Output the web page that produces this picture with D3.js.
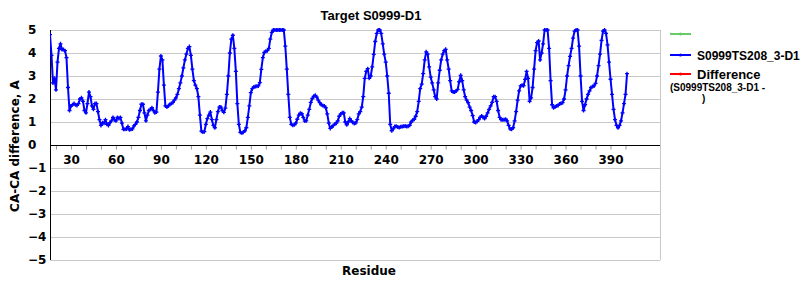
<!DOCTYPE html>
<html>
<head>
<meta charset="utf-8">
<script src="https://cdn.jsdelivr.net/npm/d3@7"></script>
<style>
  body { margin: 0; background: #fff; }
  .tick-label { font-family: "DejaVu Sans", sans-serif; font-weight: bold; font-size: 12px; fill: #000; }
</style>
</head>
<body>
<div id="chart"></div>
<script>
// chart data

var chartTitle = 'Target S0999-D1';
var seriesName = 'S0999TS208_3-D1';
var firstResidue = 16;

// CA-CA difference per residue, starting at firstResidue
var caDiff = [
  4.8, 3.9, 2.7, 2.9, 2.4, 3.6, 4.2, 4.4, 4.15, 4.15,
  4.1, 3.8, 2.5, 1.5, 1.7, 1.75, 1.8, 1.75, 1.72, 1.8,
  2.0, 2.05, 1.9, 1.5, 1.4, 1.8, 2.3, 2.1, 1.7, 1.55,
  1.8, 1.8, 1.45, 1.1, 0.85, 0.97, 0.95, 1.1, 0.9, 0.85,
  0.97, 1.05, 1.2, 1.1, 1.05, 1.2, 1.15, 1.2, 0.95, 0.68,
  0.68, 0.7, 0.8, 0.66, 0.68, 0.7, 0.83, 0.9, 1.0, 1.2,
  1.5, 1.77, 1.77, 1.4, 1.05, 1.3, 1.5, 1.55, 1.62, 1.5,
  1.4, 1.43, 2.3, 3.3, 3.87, 3.7, 2.6, 1.7, 1.65, 1.7,
  1.77, 1.8, 1.85, 1.95, 2.05, 2.2, 2.45, 2.7, 3.0, 3.35,
  3.7, 3.95, 4.2, 4.28, 3.9, 3.3, 2.8, 2.6, 2.45, 2.1,
  1.3, 0.6, 0.57, 0.58, 0.9, 1.15, 1.3, 1.43, 1.1, 0.85,
  0.75, 1.1, 1.45, 1.65, 1.65, 1.5, 1.42, 1.6, 2.2, 3.0,
  4.0, 4.6, 4.77, 4.2, 3.2, 1.8, 0.9, 0.55, 0.52, 0.55,
  0.62, 0.75, 1.2, 1.7, 2.28, 2.45, 2.52, 2.54, 2.55, 2.57,
  2.71, 3.29, 3.8, 4.02, 4.08, 4.1, 4.2, 4.6, 4.9, 5.0,
  5.0, 5.0, 5.0, 5.0, 5.0, 5.0, 5.0, 4.3, 3.3, 2.2,
  1.2, 0.9, 0.86, 0.88, 0.95, 1.12, 1.3, 1.38, 1.36, 1.2,
  1.04, 1.05, 1.3, 1.55, 1.85, 2.02, 2.12, 2.16, 2.08, 1.95,
  1.84, 1.75, 1.72, 1.7, 1.62, 1.35, 0.95, 0.72, 0.78, 0.85,
  0.9, 0.95, 1.05, 1.25, 1.35, 1.4, 1.4, 1.0, 0.88, 1.0,
  1.15, 1.05, 0.98, 0.94, 0.96, 1.1, 1.35, 1.45, 1.65, 2.1,
  2.9, 3.2, 3.32, 2.9, 3.0, 3.4, 3.94, 4.5, 4.85, 5.0,
  5.0, 4.85, 4.4, 3.95, 3.6, 3.0, 2.25, 0.9, 0.62, 0.7,
  0.8, 0.82, 0.78, 0.76, 0.79, 0.8, 0.82, 0.83, 0.8, 0.82,
  0.86, 1.0, 1.08, 1.12, 1.25, 1.45, 1.9, 2.45, 2.65, 3.1,
  3.7, 4.05, 3.95, 3.4, 2.95, 2.7, 2.4, 2.1, 2.0, 2.7,
  3.25, 3.7, 3.95, 4.1, 4.16, 3.7, 3.3, 2.8, 2.35, 2.3,
  2.3, 2.35, 2.42, 2.75, 3.03, 2.8, 2.4, 2.1, 1.95, 1.84,
  1.65, 1.5, 1.28, 1.0, 0.98, 1.03, 1.1, 1.2, 1.26, 1.2,
  1.15, 1.25, 1.4, 1.55, 1.7, 1.85, 2.1, 2.1, 1.9, 1.5,
  1.2, 1.1, 1.1, 1.1, 1.12, 1.05, 0.85, 0.7, 0.68, 0.75,
  1.05, 1.45, 1.95, 2.35, 2.57, 2.6, 2.58, 2.85, 3.2, 2.9,
  1.9, 2.05, 2.5, 3.3, 4.1, 4.45, 4.52, 3.7, 4.0, 4.4,
  5.0, 5.0, 5.0, 4.2, 2.8, 1.75, 1.62, 1.66, 1.7, 1.72,
  1.78, 1.82, 1.84, 2.0, 2.4, 3.0, 3.45, 3.85, 4.2, 4.65,
  4.95, 5.0, 5.0, 4.3, 3.0, 1.9, 1.5, 1.75, 2.0, 2.2,
  2.35, 2.5, 2.54, 2.57, 2.68, 3.0, 3.45, 3.95, 4.55, 4.95,
  5.0, 4.85, 4.35, 3.6, 2.86, 2.2, 1.55, 1.1, 0.85, 0.75,
  0.85, 1.05, 1.4, 1.8, 2.2, 3.1
];

var xDomain = [16, 423];
var xMinorTicks = d3.range(20, 401, 10);
var xLabelTicks = [30, 60, 90, 120, 150, 180, 210, 240, 270, 300, 330, 360, 390];
var yTicks = [-5, -4, -3, -2, -1, 0, 1, 2, 3, 4, 5];

var legendItems = [
  {label: '', color: '#66cc66'},
  {label: seriesName, color: '#0000ff'},
  {label: 'Difference', color: '#ff0000'}
];

// chart size
var margin = {top: 30, right: 140, bottom: 40, left: 50},
    width = 660 - margin.left,
    height = 230;

var svg = d3.select('#chart')
  .append('svg')
    .attr('width', 800)
    .attr('height', 300)
    .style('background', '#fff');

var g = svg.append('g')
  .attr('transform', 'translate(' + margin.left + ',' + margin.top + ')');

var data = caDiff.map(function(v, i) { return {res: firstResidue + i, value: v}; });

var x = d3.scaleLinear().domain(xDomain).range([0, width]);
var y = d3.scaleLinear().domain([-5, 5]).range([height, 0]);

// grid lines
g.selectAll('.grid')
  .data(yTicks.filter(function(d) { return d !== 0; }))
  .enter()
  .append('line')
    .attr('x1', 0)
    .attr('x2', width)
    .attr('y1', function(d) { return Math.round(y(d)) + 0.5; })
    .attr('y2', function(d) { return Math.round(y(d)) + 0.5; })
    .attr('stroke', '#c8c8c8');

// right border
g.append('line')
  .attr('x1', width + 0.5).attr('x2', width + 0.5)
  .attr('y1', 0).attr('y2', height)
  .attr('stroke', '#c8c8c8');

// X axis (zero line)
var xAxis = g.append('g')
  .attr('transform', 'translate(0,' + (Math.round(y(0)) + 0.5) + ')')
  .call(d3.axisBottom(x)
    .tickValues(xMinorTicks)
    .tickSize(4)
    .tickFormat(function(d) { return xLabelTicks.indexOf(d) >= 0 ? d : ''; }));
xAxis.select('.domain').remove();
xAxis.selectAll('.tick line').attr('stroke', '#999');
xAxis.selectAll('.tick text')
  .attr('class', 'tick-label')
  .attr('y', 10);
xAxis.append('line')
  .attr('x1', 0).attr('x2', width)
  .attr('stroke', '#000');

// Y axis
var yAxis = g.append('g')
  .call(d3.axisLeft(y).tickValues(yTicks).tickSize(0));
yAxis.select('.domain').remove();
yAxis.selectAll('.tick text')
  .attr('class', 'tick-label')
  .attr('x', -22)
  .style('text-anchor', 'start');
g.append('line')
  .attr('x1', 0.5).attr('x2', 0.5)
  .attr('y1', 0).attr('y2', height)
  .attr('stroke', '#000');

// series line
g.append('clipPath').attr('id', 'plot-clip')
  .append('rect').attr('x', 0).attr('y', -2).attr('width', width).attr('height', height + 4);

var line = d3.line()
  .x(function(d) { return x(d.res); })
  .y(function(d) { return y(d.value); });

var plot = g.append('g').attr('clip-path', 'url(#plot-clip)');
plot.append('path')
  .datum(data)
  .attr('fill', 'none')
  .attr('stroke', '#0000ff')
  .attr('stroke-width', 2)
  .attr('stroke-linejoin', 'round')
  .attr('d', line);

// point markers
plot.selectAll('.marker')
  .data(data)
  .enter()
  .append('path')
    .attr('transform', function(d) { return 'translate(' + x(d.res) + ',' + y(d.value) + ')'; })
    .attr('d', d3.symbol().type(d3.symbolCross).size(9))
    .attr('fill', '#0000ff');

// Chart Title
svg.append('text')
  .attr('x', 371)
  .attr('y', 20)
  .attr('text-anchor', 'middle')
  .style('font-family', '"Liberation Sans", Arial, sans-serif')
  .style('font-weight', 'bold')
  .style('font-size', '13px')
  .text(chartTitle);

// axis titles
svg.append('text')
  .attr('x', 369)
  .attr('y', 275)
  .attr('text-anchor', 'middle')
  .style('font-family', '"DejaVu Sans", sans-serif')
  .style('font-weight', 'bold')
  .style('font-size', '12px')
  .text('Residue');

svg.append('text')
  .attr('transform', 'translate(19,146) rotate(-90)')
  .attr('text-anchor', 'middle')
  .style('font-family', '"DejaVu Sans", sans-serif')
  .style('font-weight', 'bold')
  .style('font-size', '12px')
  .text('CA-CA difference, A');

// legend
var legendY = [34, 55, 74];
var legend = svg.selectAll('.legend')
  .data(legendItems)
  .enter()
  .append('g')
    .attr('transform', function(d, i) { return 'translate(670,' + legendY[i] + ')'; });
legend.append('line')
  .attr('x1', 0).attr('x2', 21)
  .attr('stroke', function(d) { return d.color; })
  .attr('stroke-width', 2);
legend.append('circle')
  .attr('cx', 10.5).attr('r', 1.5)
  .attr('fill', function(d) { return d.color; });
legend.append('text')
  .attr('x', 27)
  .attr('y', 4.5)
  .style('font-family', '"Liberation Sans", Arial, sans-serif')
  .style('font-weight', 'bold')
  .style('font-size', function(d, i) { return i === 2 ? '13px' : '12px'; })
  .text(function(d) { return d.label; });

svg.append('text')
  .attr('x', 670)
  .attr('y', 90.5)
  .style('font-family', '"Liberation Sans", Arial, sans-serif')
  .style('font-weight', 'bold')
  .style('font-size', '10px')
  .text('(' + seriesName + ' -');
svg.append('text')
  .attr('x', 702)
  .attr('y', 102)
  .style('font-family', '"Liberation Sans", Arial, sans-serif')
  .style('font-weight', 'bold')
  .style('font-size', '10px')
  .text(')');
</script>
</body>
</html>
